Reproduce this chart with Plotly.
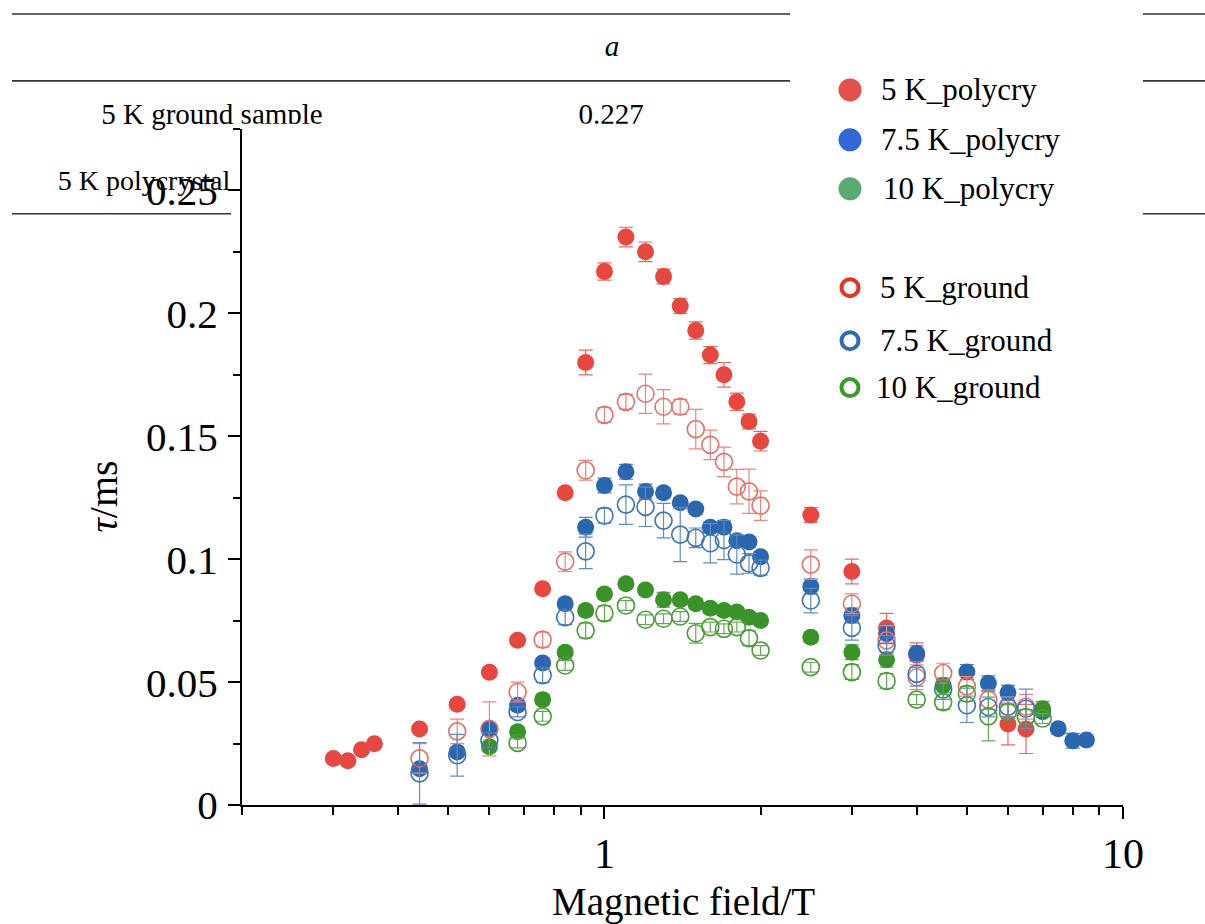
import math
import plotly.graph_objects as go

# reference canvas (design coordinates) and figure size
W, H = 1205, 924
FIG_W, FIG_H = 1226, 946
SERIF = "Liberation Serif"

# ---------------- data ----------------
B_red_poly = [0.30, 0.32, 0.34, 0.36, 0.44, 0.52, 0.60, 0.68, 0.76, 0.84, 0.92, 1.0, 1.1, 1.2, 1.3, 1.4, 1.5,
              1.6, 1.7, 1.8, 1.9, 2.0, 2.5, 3.0, 3.5, 4.0, 6.0, 6.5]
tau_red_poly = [0.019, 0.018, 0.0225, 0.025, 0.031, 0.041, 0.054, 0.067, 0.088, 0.127, 0.180, 0.217, 0.231,
                0.225, 0.215, 0.203, 0.193, 0.183, 0.175, 0.164, 0.156, 0.148, 0.118, 0.095, 0.072, 0.061,
                0.033, 0.031]
err_red_poly = [0.0015, 0.0015, 0.001, 0.001, 0.001, 0.001, 0.001, 0.001, 0.001, 0.001, 0.005, 0.0035, 0.004,
                0.004, 0.003, 0.003, 0.0035, 0.0035, 0.005, 0.0035, 0.003, 0.004, 0.003, 0.005, 0.006, 0.005,
                0.0085, 0.010]

B_blue_poly = [0.44, 0.52, 0.60, 0.68, 0.76, 0.84, 0.92, 1.0, 1.1, 1.2, 1.3, 1.4, 1.5, 1.6, 1.7, 1.8, 1.9,
               2.0, 2.5, 3.0, 3.5, 4.0, 5.0, 5.5, 6.0, 7.0, 7.5, 8.0, 8.5]
tau_blue_poly = [0.0148, 0.0216, 0.031, 0.0406, 0.0578, 0.0819, 0.113, 0.130, 0.1356, 0.1275, 0.127, 0.123,
                 0.1204, 0.113, 0.113, 0.1075, 0.107, 0.101, 0.0889, 0.0771, 0.0697, 0.0618, 0.0541, 0.0496,
                 0.0457, 0.038, 0.0311, 0.0262, 0.0265]
err_blue_poly = [0.002, 0.002, 0.002, 0.002, 0.002, 0.002, 0.004, 0.003, 0.003, 0.003, 0.002, 0.002, 0.002,
                 0.002, 0.002, 0.002, 0.002, 0.002, 0.003, 0.003, 0.004, 0.003, 0.003, 0.003, 0.003, 0.002,
                 0.002, 0.003, 0.002]

B_green_poly = [0.60, 0.68, 0.76, 0.84, 0.92, 1.0, 1.1, 1.2, 1.3, 1.4, 1.5, 1.6, 1.7, 1.8, 1.9, 2.0, 2.5,
                3.0, 3.5, 4.5, 7.0]
tau_green_poly = [0.0237, 0.0298, 0.0429, 0.0622, 0.0791, 0.0859, 0.090, 0.0875, 0.0835, 0.0835, 0.0819,
                  0.0801, 0.0791, 0.0785, 0.0764, 0.0751, 0.0683, 0.0622, 0.0591, 0.0487, 0.0392]
err_green_poly = [0.002, 0.002, 0.002, 0.002, 0.002, 0.002, 0.002, 0.002, 0.003, 0.002, 0.002, 0.002, 0.002,
                  0.002, 0.002, 0.002, 0.002, 0.003, 0.003, 0.003, 0.003]

B_red_ground = [0.44, 0.52, 0.60, 0.68, 0.76, 0.84, 0.92, 1.0, 1.1, 1.2, 1.3, 1.4, 1.5, 1.6, 1.7, 1.8, 1.9,
                2.0, 2.5, 3.0, 3.5, 4.0, 4.5, 5.0, 5.5, 6.0, 6.5]
tau_red_ground = [0.019, 0.030, 0.031, 0.046, 0.0673, 0.099, 0.1362, 0.1587, 0.164, 0.1673, 0.162, 0.162,
                  0.1529, 0.1465, 0.1396, 0.1295, 0.1276, 0.1218, 0.0978, 0.0819, 0.067, 0.052, 0.0537,
                  0.0483, 0.0429, 0.040, 0.040]
err_red_ground = [0.006, 0.005, 0.011, 0.004, 0.003, 0.004, 0.004, 0.003, 0.003, 0.008, 0.007, 0.003, 0.008,
                  0.006, 0.006, 0.007, 0.009, 0.006, 0.006, 0.004, 0.006, 0.005, 0.004, 0.004, 0.004, 0.004,
                  0.005]

B_blue_ground = [0.44, 0.52, 0.60, 0.68, 0.76, 0.84, 0.92, 1.0, 1.1, 1.2, 1.3, 1.4, 1.5, 1.6, 1.7, 1.8, 1.9,
                 2.0, 2.5, 3.0, 3.5, 4.0, 4.5, 5.0, 5.5, 6.0, 6.5]
tau_blue_ground = [0.0129, 0.0203, 0.0264, 0.0379, 0.0528, 0.0764, 0.1032, 0.1177, 0.1222, 0.1213, 0.1157,
                   0.110, 0.1087, 0.1065, 0.1078, 0.1019, 0.0983, 0.0965, 0.0832, 0.0721, 0.0649, 0.0534,
                   0.047, 0.0406, 0.0399, 0.040, 0.0392]
err_blue_ground = [0.0125, 0.0085, 0.003, 0.002, 0.003, 0.003, 0.007, 0.003, 0.008, 0.008, 0.007, 0.011,
                   0.004, 0.008, 0.008, 0.008, 0.004, 0.003, 0.005, 0.005, 0.004, 0.005, 0.004, 0.007, 0.004,
                   0.004, 0.008]

B_green_ground = [0.68, 0.76, 0.84, 0.92, 1.0, 1.1, 1.2, 1.3, 1.4, 1.5, 1.6, 1.7, 1.8, 1.9, 2.0, 2.5, 3.0,
                  3.5, 4.0, 4.5, 5.0, 5.5, 6.0, 6.5, 7.0]
tau_green_ground = [0.0253, 0.0361, 0.0568, 0.071, 0.078, 0.0812, 0.0754, 0.0758, 0.0767, 0.0699, 0.0724,
                    0.0717, 0.0724, 0.0679, 0.0629, 0.0561, 0.0541, 0.0505, 0.0429, 0.0419, 0.0453, 0.0361,
                    0.0379, 0.0358, 0.0352]
err_green_ground = [0.002, 0.002, 0.002, 0.003, 0.003, 0.002, 0.002, 0.002, 0.002, 0.004, 0.002, 0.002,
                    0.002, 0.003, 0.002, 0.002, 0.003, 0.003, 0.002, 0.003, 0.003, 0.010, 0.003, 0.003, 0.002]

legend_labels = ["5 K_polycry", "7.5 K_polycry", "10 K_polycry", "5 K_ground", "7.5 K_ground", "10 K_ground"]
y_tick_vals = [0, 0.05, 0.1, 0.15, 0.2, 0.25]
y_tick_text = ["0", "0.05", "0.1", "0.15", "0.2", "0.25"]
x_tick_vals = [1, 10]
x_tick_text = ["1", "10"]

table_header = "a"
table_row_labels = ["5 K ground sample", "5 K polycrystal"]
table_row_values = ["0.227"]

# ---------------- styling ----------------
series = [
    (B_red_poly, tau_red_poly, err_red_poly, "#E8473F", "#E66A64", "circle"),
    (B_blue_poly, tau_blue_poly, err_blue_poly, "#2A67AE", "#4E82C0", "circle"),
    (B_green_poly, tau_green_poly, err_green_poly, "#3A9328", "#5FA852", "circle"),
    (B_red_ground, tau_red_ground, err_red_ground, "#E8706C", "#EC8581", "circle-open"),
    (B_blue_ground, tau_blue_ground, err_blue_ground, "#3E74B6", "#5F8CC4", "circle-open"),
    (B_green_ground, tau_green_ground, err_green_ground, "#4C9C3C", "#66AA58", "circle-open"),
]

fig = go.Figure()
for (xs, ys, es, col, ecol, sym), name in zip(series, legend_labels):
    fig.add_trace(go.Scatter(
        x=xs, y=ys, mode="markers", name=name, showlegend=False,
        marker=dict(symbol=sym, size=17, color=col,
                    line=dict(width=1.6 if sym == "circle-open" else 0, color=col)),
        error_y=dict(type="data", array=es, visible=True, color=ecol, thickness=1.2, width=7),
        cliponaxis=False,
    ))

# plot area in reference pixels
PX0, PX1 = 242, 1123
PY0, PY1 = 129, 806
CUT_X = 236      # left edge of the chart panel that hides part of the table
CUT_Y = 124      # top edge of the chart panel


def px(x):
    return x / W


def py(y):
    return 1 - y / H


fig.update_layout(
    width=FIG_W, height=FIG_H,
    margin=dict(l=0, r=0, t=0, b=0),
    paper_bgcolor="white", plot_bgcolor="rgba(0,0,0,0)",
    font=dict(family=SERIF, color="black"),
    xaxis=dict(
        type="log", range=[math.log10(0.2), 1], domain=[px(PX0), px(PX1)],
        tickvals=x_tick_vals, ticktext=x_tick_text, ticks="outside", ticklen=12, tickwidth=2,
        tickcolor="black", showline=True, linecolor="black", linewidth=2, showgrid=False, zeroline=False,
        tickfont=dict(family=SERIF, size=42, color="black"), ticklabelstandoff=-2,
        minor=dict(dtick="D1", ticks="outside", ticklen=8, tickwidth=1.5, tickcolor="black", showgrid=False),
        anchor="y",
    ),
    yaxis=dict(
        range=[0, 0.275], domain=[py(PY1), py(PY0)],
        tickvals=y_tick_vals, ticktext=y_tick_text, ticks="outside", ticklen=12, tickwidth=2,
        tickcolor="black", showline=True, linecolor="black", linewidth=2, showgrid=False, zeroline=False,
        tickfont=dict(family=SERIF, size=41, color="black"), ticklabelstandoff=2,
        minor=dict(dtick=0.025, tick0=0.025, ticks="outside", ticklen=7, tickwidth=1.5, tickcolor="black",
                   showgrid=False),
        anchor="x",
    ),
    # text layers for the partly hidden table cells (reference-pixel coordinates)
    # left of the chart panel: not cut
    xaxis2=dict(domain=[0, px(CUT_X)], range=[0, CUT_X], visible=False, anchor="y2", fixedrange=True),
    yaxis2=dict(domain=[py(140), 1], range=[140, 0], visible=False, anchor="x2", fixedrange=True),
    # above the chart panel: cut at its top edge
    xaxis3=dict(domain=[px(CUT_X), 1], range=[CUT_X, W], visible=False, anchor="y3", fixedrange=True),
    yaxis3=dict(domain=[py(CUT_Y), 1], range=[CUT_Y, 0], visible=False, anchor="x3", fixedrange=True),
    # second row label, cut at the panel's left edge
    xaxis4=dict(domain=[0, px(232)], range=[0, 232], visible=False, anchor="y4", fixedrange=True),
    yaxis4=dict(domain=[py(230), py(140)], range=[230, 140], visible=False, anchor="x4", fixedrange=True),
)

top_x = [612, 212, 611]
top_y = [49, 117, 117]
top_text = ["<i>" + table_header + "</i>", table_row_labels[0], table_row_values[0]]
for xa, ya in [("x2", "y2"), ("x3", "y3")]:
    fig.add_trace(go.Scatter(
        x=top_x, y=top_y, text=top_text,
        mode="text", textfont=dict(family=SERIF, size=29, color="black"),
        xaxis=xa, yaxis=ya, showlegend=False, hoverinfo="skip", cliponaxis=True,
    ))
fig.add_trace(go.Scatter(
    x=[144], y=[183], text=[table_row_labels[1]],
    mode="text", textfont=dict(family=SERIF, size=28, color="black"),
    xaxis="x4", yaxis="y4", showlegend=False, hoverinfo="skip", cliponaxis=True,
))

shapes = []
# table rules
for y, segs in [(14, [(12, 790), (1143, W)]), (81, [(12, 790), (1143, W)]), (214, [(12, 231), (1143, W)])]:
    for a, b in segs:
        shapes.append(dict(type="line", xref="paper", yref="paper", x0=px(a), x1=px(b), y0=py(y), y1=py(y),
                           line=dict(color="#333333", width=1.6), layer="below"))

# manual legend
legend_items = [
    (90, "#E5504B", True, 879), (140, "#3366D6", True, 879), (189, "#5AAA72", True, 881),
    (288, "#E8341F", False, 878), (341, "#2E6DB5", False, 878), (388, "#3A9A2A", False, 874),
]
annotations = []
for (cy, col, filled, tx), lab in zip(legend_items, legend_labels):
    if filled:
        shapes.append(dict(type="circle", xref="paper", yref="paper", xsizemode="pixel", ysizemode="pixel",
                           xanchor=px(850), yanchor=py(cy), x0=-11.5, x1=11.5, y0=-11.5, y1=11.5,
                           fillcolor=col, line=dict(width=0)))
    else:
        shapes.append(dict(type="circle", xref="paper", yref="paper", xsizemode="pixel", ysizemode="pixel",
                           xanchor=px(850), yanchor=py(cy), x0=-8.5, x1=8.5, y0=-8.5, y1=8.5,
                           fillcolor="white", line=dict(width=4, color=col)))
    annotations.append(dict(x=px(tx), y=py(cy), xref="paper", yref="paper", text=lab, showarrow=False,
                            xanchor="left", yanchor="middle", font=dict(family=SERIF, size=31, color="black")))

# axis titles
annotations.append(dict(x=px(683), y=py(903), xref="paper", yref="paper", text="Magnetic field/T",
                        showarrow=False, xanchor="center", yanchor="middle",
                        font=dict(family=SERIF, size=39, color="black")))
annotations.append(dict(x=px(103), y=py(497), xref="paper", yref="paper", text="<i>τ</i>/ms",
                        showarrow=False, xanchor="center", yanchor="middle", textangle=-90,
                        font=dict(family=SERIF, size=40, color="black")))

fig.update_layout(shapes=shapes, annotations=annotations)
fig.write_html(
    "out.html",
    config={"displayModeBar": False},
    post_script="document.body.style.margin='0';document.documentElement.style.margin='0';",
)
